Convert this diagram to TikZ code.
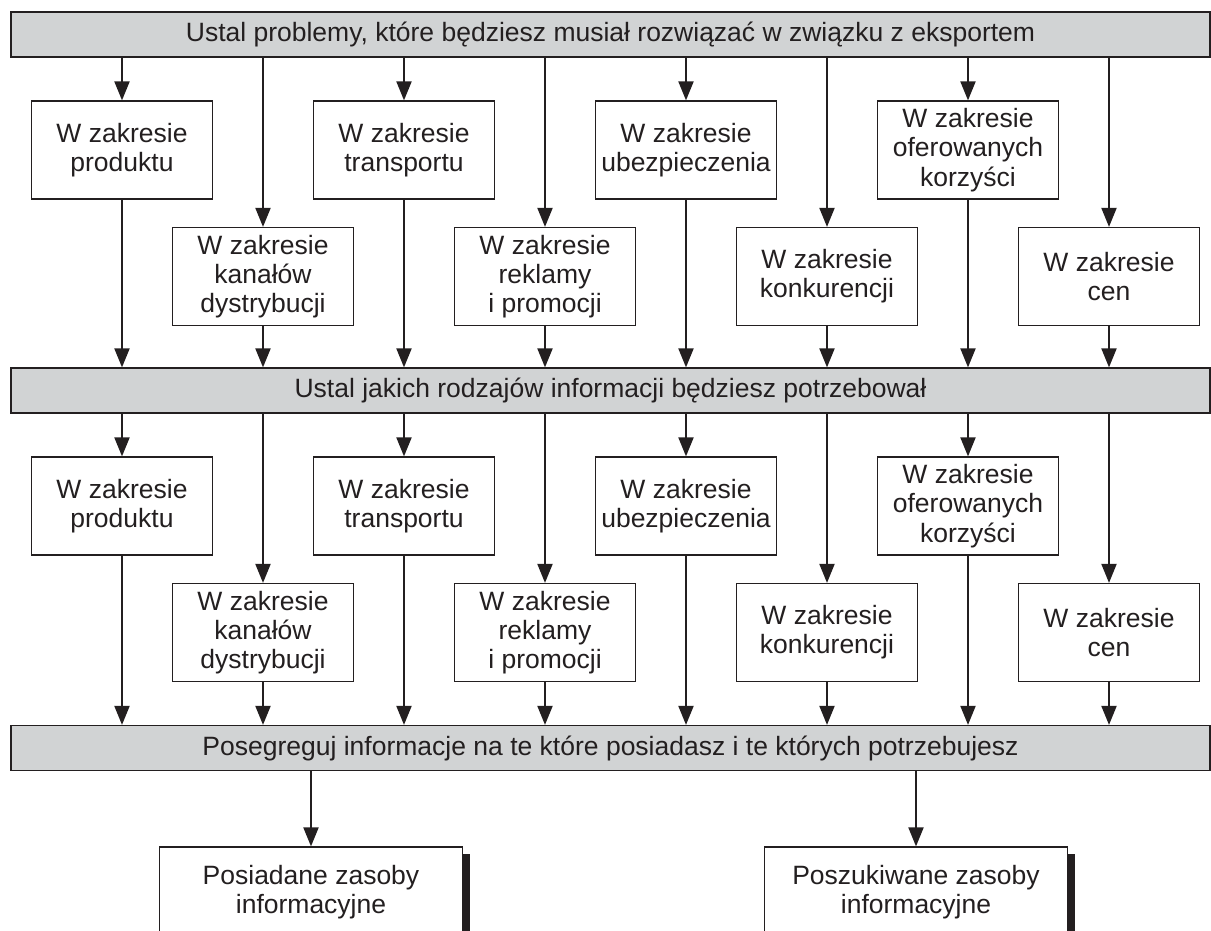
\documentclass[tikz,border=0pt]{standalone}
\usepackage{fontspec}
\setmainfont{Liberation Sans}
\usetikzlibrary{arrows.meta}
\definecolor{barfill}{RGB}{209,211,212}
\definecolor{ink}{RGB}{35,31,32}
\begin{document}
\begin{tikzpicture}[x=0.5pt,y=-0.5pt,
  every node/.style={font=\fontsize{13.25}{14.6}\selectfont, text=ink},
  box/.style={draw=ink, line width=0.6pt, fill=white, minimum width=90.5pt, minimum height=49pt, align=center, inner sep=0pt},
  bar/.style={draw=ink, line width=0.6pt, fill=barfill, minimum width=599.5pt, minimum height=22.5pt, inner sep=0pt},
  endbox/.style={draw=ink, line width=0.6pt, fill=white, minimum width=151.5pt, minimum height=45pt, align=center, inner sep=0pt},
  arr/.style={draw=ink, line width=1pt, -{Triangle[length=9.5pt,width=7.5pt]}}]
\useasboundingbox (0,0) rectangle (1211,931);
\clip (0,0) rectangle (1211,931);

% bars
\node[bar] (b1) at (610.5,34.5) {Ustal problemy, które będziesz musiał rozwiązać w związku z eksportem};
\node[bar] (b2) at (610.5,390.5) {Ustal jakich rodzajów informacji będziesz potrzebował};
\node[bar] (b3) at (610.5,748) {Posegreguj informacje na te które posiadasz i te których potrzebujesz};

% section 1
\node[box] (a1) at (122,150) {W zakresie\\produktu};
\node[box] (a3) at (404,150) {W zakresie\\transportu};
\node[box] (a5) at (686,150) {W zakresie\\ubezpieczenia};
\node[box] (a7) at (968,150) {W zakresie\\oferowanych\\korzyści};
\node[box] (a2) at (263,276.5) {W zakresie\\kanałów\\dystrybucji};
\node[box] (a4) at (545,276.5) {W zakresie\\reklamy\\i promocji};
\node[box] (a6) at (827,276.5) {W zakresie\\konkurencji};
\node[box] (a8) at (1109,276.5) {W zakresie\\cen};

% section 2
\node[box] (c1) at (122,506) {W zakresie\\produktu};
\node[box] (c3) at (404,506) {W zakresie\\transportu};
\node[box] (c5) at (686,506) {W zakresie\\ubezpieczenia};
\node[box] (c7) at (968,506) {W zakresie\\oferowanych\\korzyści};
\node[box] (c2) at (263,632.5) {W zakresie\\kanałów\\dystrybucji};
\node[box] (c4) at (545,632.5) {W zakresie\\reklamy\\i promocji};
\node[box] (c6) at (827,632.5) {W zakresie\\konkurencji};
\node[box] (c8) at (1109,632.5) {W zakresie\\cen};

% connectors
\foreach \i in {1,...,8}{
  \draw[arr] (b1.south -| a\i.north) -- (a\i.north);
  \draw[arr] (a\i.south) -- (a\i.south |- b2.north);
  \draw[arr] (b2.south -| c\i.north) -- (c\i.north);
  \draw[arr] (c\i.south) -- (c\i.south |- b3.north);
}

% final boxes
\node[endbox] (p1) at (311,892) {Posiadane zasoby\\informacyjne};
\node[endbox] (p2) at (916,892) {Poszukiwane zasoby\\informacyjne};
\fill[ink] (p1.north east) ++(0,8) rectangle ++(7,100);
\fill[ink] (p2.north east) ++(0,8) rectangle ++(7,100);
\draw[arr] (b3.south -| p1.north) -- (p1.north);
\draw[arr] (b3.south -| p2.north) -- (p2.north);
\end{tikzpicture}
\end{document}
